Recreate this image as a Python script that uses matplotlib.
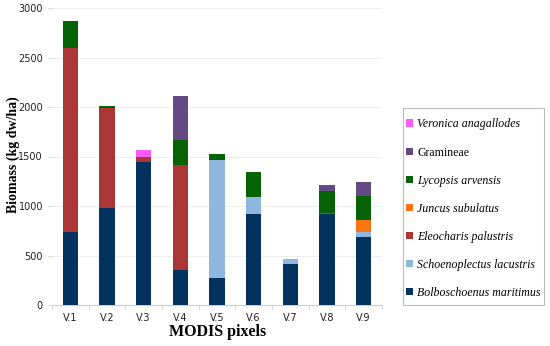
import matplotlib
matplotlib.use("Agg")
import matplotlib.pyplot as plt
from matplotlib.patches import Rectangle
import numpy as np

categories = ["V.1", "V.2", "V.3", "V.4", "V.5", "V.6", "V.7", "V.8", "V.9"]
species = ["Bolboschoenus maritimus", "Schoenoplectus lacustris", "Eleocharis palustris",
           "Juncus subulatus", "Lycopsis arvensis", "Gramineae", "Veronica anagallodes"]
bolboschoenus = [740, 980, 1445, 352, 275, 918, 418, 922, 690]
schoenoplectus = [0, 0, 0, 0, 1190, 170, 50, 0, 50]
eleocharis = [1860, 1010, 55, 1060, 0, 0, 0, 12, 0]
juncus = [0, 0, 0, 0, 0, 0, 0, 0, 118]
lycopsis = [268, 22, 0, 253, 58, 258, 0, 215, 247]
gramineae = [0, 0, 0, 447, 0, 0, 0, 67, 134]
veronica = [0, 0, 70, 0, 0, 0, 0, 0, 0]
colors = ["#03325e", "#8fb6dc", "#ab3636", "#fb7411", "#056305", "#634a82", "#fb5bf6"]
italic = [True, True, True, True, True, False, True]

series = [bolboschoenus, schoenoplectus, eleocharis, juncus, lycopsis, gramineae, veronica]

W, H = 550, 346
fig = plt.figure(figsize=(5.5, 3.46), dpi=100)
ax = fig.add_axes([52/W, 1-305/H, (382-52)/W, (305-8)/H])
x = np.arange(len(categories))
bottom = np.zeros(len(categories))
handles = []
for vals, c in zip(series, colors):
    h = ax.bar(x, vals, bottom=bottom, width=0.42, color=c, zorder=3)
    handles.append(h)
    bottom += np.array(vals)

ax.set_xlim(-0.5, len(categories) - 0.5)
ax.set_ylim(0, 3000)
ax.set_yticks(np.arange(0, 3001, 500))
ax.set_xticks(x)
ax.set_xticklabels(categories)
ax.tick_params(axis="both", labelsize=7, colors="#d0d0d0", labelcolor="#222222", length=3, width=0.6)
ax.tick_params(axis="x", length=0, pad=6)
ax.set_xticks(np.arange(-0.5, len(categories)), minor=True)
ax.tick_params(axis="x", which="minor", length=3, color="#cccccc", width=0.6)
ax.grid(axis="y", color="#efefef", linewidth=0.8, zorder=0)
for s in ["top", "right", "left"]:
    ax.spines[s].set_visible(False)
ax.spines["bottom"].set_color("#cccccc")
ax.spines["bottom"].set_linewidth(0.8)

fig.text(13/W, 1-155/H, "Biomass (kg dw/ha)", family="Liberation Serif", fontsize=10,
         fontweight="bold", rotation=90, ha="center", va="center")
fig.text(218/W, 1-332/H, "MODIS pixels", family="Liberation Serif", fontsize=11.5,
         fontweight="bold", ha="center", va="center")

# legend frame
fig.patches.append(Rectangle((403/W, 1-305/H), (544-403)/W, (305-108)/H,
                             transform=fig.transFigure, facecolor="white",
                             edgecolor="#bbbbbb", linewidth=0.8, zorder=1))

leg = fig.legend(handles[::-1], species[::-1], loc="upper left",
                 bbox_to_anchor=(406/W, 1-118.5/H), bbox_transform=fig.transFigure,
                 frameon=False, fontsize=8.6,
                 handlelength=0.6, handleheight=0.6, handletextpad=0.35,
                 labelspacing=1.34, borderpad=0, borderaxespad=0)
leg.set_zorder(2)
for t, it in zip(leg.get_texts(), italic[::-1]):
    t.set_family("Liberation Serif")
    if it:
        t.set_style("italic")

fig.savefig("out.png", dpi=100)
